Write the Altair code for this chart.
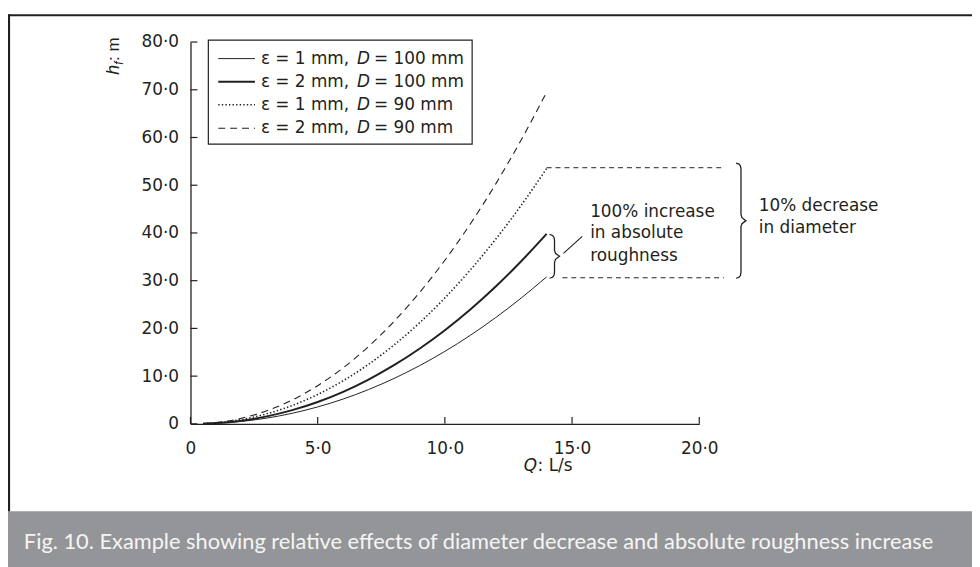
import altair as alt
import pandas as pd

# ---------------- data ----------------
Q = [0.5, 1, 2, 3, 4, 5, 6, 7, 8, 9, 10, 11, 12, 13, 14]
hf_e1_d100 = [0.03, 0.12, 0.52, 1.21, 2.22, 3.55, 5.20, 7.19, 9.51, 12.18, 15.19, 18.56, 22.28, 26.36, 30.8]
hf_e2_d100 = [0.04, 0.16, 0.67, 1.57, 2.87, 4.58, 6.72, 9.29, 12.29, 15.74, 19.63, 23.98, 28.80, 34.07, 39.8]
hf_e1_d90 = [0.05, 0.21, 0.90, 2.11, 3.85, 6.16, 9.03, 12.48, 16.52, 21.15, 26.39, 32.24, 38.71, 45.79, 53.5]
hf_e2_d90 = [0.06, 0.27, 1.17, 2.74, 5.00, 8.00, 11.73, 16.21, 21.46, 27.48, 34.28, 41.88, 50.28, 59.49, 69.5]

series_keys = ["e1d100", "e2d100", "e1d90", "e2d90"]
legend_eps = ["ε = 1 mm, ", "ε = 2 mm, ", "ε = 1 mm, ", "ε = 2 mm, "]
legend_dia = ["= 100 mm", "= 100 mm", "= 90 mm", "= 90 mm"]

x_ticks = [0, 5, 10, 15, 20]
y_ticks = [0, 10, 20, 30, 40, 50, 60, 70, 80]

caption = ("Fig. 10. Example showing relative effects of diameter decrease "
           "and absolute roughness increase")

# annotation anchors (data units)
bracket_top = 53.67      # dotted-curve end level
bracket_bottom = 30.61   # thin-curve end level
bracket_x_end = 20.97
small_brace_top = 39.69
ann_small_text = ["100% increase", "in absolute", "roughness"]
ann_small_x = 15.71
ann_small_y = [44.47, 39.90, 35.12]
ann_big_text = ["10% decrease", "in diameter"]
ann_big_x = 22.34
ann_big_y = [45.71, 40.93]

# ---------------- layout / style ----------------
W, H = 513, 385
XMAX, YMAX = 20, 80
PX = W / XMAX
PY = H / YMAX
INK = "#231f20"
FONT = "DejaVu Sans"

styles = {
    "e1d100": dict(strokeWidth=1.0),
    "e2d100": dict(strokeWidth=2.0),
    "e1d90": dict(strokeWidth=1.6, strokeDash=[1.4, 2.2]),
    "e2d90": dict(strokeWidth=1.1, strokeDash=[7, 5]),
}

label_expr = "datum.value == 0 ? '0' : replace(format(datum.value, '.1f'), '.', '·')"
xscale = alt.Scale(domain=[0, XMAX], nice=False, zero=False)
yscale = alt.Scale(domain=[0, YMAX], nice=False, zero=False)
xaxis = alt.Axis(values=x_ticks, ticks=False, tickSize=0, grid=False, title=None,
                 labelFont=FONT, labelFontSize=17, labelColor=INK, labelPadding=17,
                 domainColor=INK, domainWidth=1.3, labelExpr=label_expr,
                 labelOverlap=False, labelFlush=False)
yaxis = alt.Axis(values=y_ticks, ticks=False, tickSize=0, grid=False, title=None,
                 labelFont=FONT, labelFontSize=17, labelColor=INK, labelPadding=12,
                 domainColor=INK, domainWidth=1.3, labelExpr=label_expr,
                 labelOverlap=False, labelFlush=False)


def xenc(f="Q"):
    return alt.X(f"{f}:Q", scale=xscale, axis=xaxis)


def yenc(f="hf"):
    return alt.Y(f"{f}:Q", scale=yscale, axis=yaxis)


one = pd.DataFrame({"a": [0]})
layers = []

# frame and caption band
layers.append(alt.Chart(one).mark_rect(fill="#939598").encode(
    x=alt.value(-184), x2=alt.value(790), y=alt.value(473), y2=alt.value(530)))
layers.append(alt.Chart(one).mark_rule(color=INK, strokeWidth=2.2).encode(
    x=alt.value(-184), x2=alt.value(790), y=alt.value(-27)))
layers.append(alt.Chart(one).mark_rule(color=INK, strokeWidth=2.2).encode(
    x=alt.value(-183), y=alt.value(-28), y2=alt.value(473)))
layers.append(alt.Chart(one).mark_text(
    text=caption, align="left", baseline="alphabetic", font="Lato", fontSize=22,
    color="#f5f5f5").encode(x=alt.value(-168), y=alt.value(511)))

# curves
rows = []
for key, vals in zip(series_keys, [hf_e1_d100, hf_e2_d100, hf_e1_d90, hf_e2_d90]):
    for q, h in zip(Q, vals):
        rows.append({"series": key, "Q": q, "hf": h})
curves = pd.DataFrame(rows)
for key in series_keys:
    layers.append(alt.Chart(curves).transform_filter(alt.datum.series == key)
                  .mark_line(color=INK, interpolate="monotone", **styles[key])
                  .encode(x=xenc(), y=yenc()))

# inward ticks
layers.append(alt.Chart(pd.DataFrame({"hf": y_ticks})).mark_rule(color=INK, strokeWidth=1.2)
              .encode(x=alt.value(0), x2=alt.value(7), y=yenc()))
layers.append(alt.Chart(pd.DataFrame({"Q": x_ticks})).mark_rule(color=INK, strokeWidth=1.2)
              .encode(x=xenc(), y=alt.value(H), y2=alt.value(H - 7)))

# dashed level lines
dash_df = pd.DataFrame({"Q": [14.0, 14.62], "Q2": [bracket_x_end, bracket_x_end],
                        "hf": [bracket_top, bracket_bottom]})
layers.append(alt.Chart(dash_df).mark_rule(color=INK, strokeWidth=1.0, strokeDash=[5, 4])
              .encode(x=xenc(), x2="Q2:Q", y=yenc()))


def brace(xs, ytop, ybot):
    """curly brace '}' with stem at data x = xs, spanning data y ytop..ybot"""
    hpx = (ytop - ybot) * PY
    mid = hpx / 2
    shape = [(-5, 0), (-2, 1), (-0.5, 3), (0, 6), (0, mid - 6), (1, mid - 3), (5, mid),
             (1, mid + 3), (0, mid + 6), (0, hpx - 6), (-0.5, hpx - 3), (-2, hpx - 1), (-5, hpx)]
    return pd.DataFrame({"i": list(range(len(shape))),
                         "Q": [xs + dx / PX for dx, _ in shape],
                         "hf": [ytop - dy / PY for _, dy in shape]})


big = brace(21.64, 54.65, bracket_bottom - 0.1)
small = brace(14.31, small_brace_top, bracket_bottom - 0.1)
for b in (big, small):
    layers.append(alt.Chart(b).mark_line(color=INK, strokeWidth=1.3)
                  .encode(x=xenc(), y=yenc(), order="i:Q"))

# leader line
leader = pd.DataFrame({"Q": [14.66], "Q2": [15.40], "hf": [35.74], "hf2": [39.27]})
layers.append(alt.Chart(leader).mark_rule(color=INK, strokeWidth=1.1)
              .encode(x=xenc(), x2="Q2:Q", y=yenc(), y2="hf2:Q"))

# annotation texts
ann = pd.DataFrame({"Q": [ann_small_x] * 3 + [ann_big_x] * 2,
                    "hf": ann_small_y + ann_big_y,
                    "t": ann_small_text + ann_big_text})
layers.append(alt.Chart(ann).mark_text(align="left", baseline="middle", font=FONT,
                                        fontSize=17, color=INK)
              .encode(x=xenc(), y=yenc(), text="t:N"))

# legend (manual, to allow italic D)
layers.append(alt.Chart(one).mark_rect(fill="white", stroke=INK, strokeWidth=1.2).encode(
    x=alt.value(18), x2=alt.value(284), y=alt.value(-2), y2=alt.value(103)))
row_y = [16.7, 40.0, 63.3, 87.0]
for key, yy, eps, dia in zip(series_keys, row_y, legend_eps, legend_dia):
    layers.append(alt.Chart(one).mark_rule(color=INK, **styles[key]).encode(
        x=alt.value(28), x2=alt.value(65), y=alt.value(yy)))
    layers.append(alt.Chart(one).mark_text(text=eps, align="left", baseline="middle",
                                           font=FONT, fontSize=17, color=INK)
                  .encode(x=alt.value(71), y=alt.value(yy)))
    layers.append(alt.Chart(one).mark_text(text="D", align="left", baseline="middle",
                                           font=FONT, fontSize=17, fontStyle="italic",
                                           color=INK)
                  .encode(x=alt.value(168), y=alt.value(yy)))
    layers.append(alt.Chart(one).mark_text(text=dia, align="left", baseline="middle",
                                           font=FONT, fontSize=17, color=INK)
                  .encode(x=alt.value(185), y=alt.value(yy)))

# y-axis title  h_f: m  (rotated)
layers.append(alt.Chart(one).mark_text(text="h", angle=270, align="left", baseline="alphabetic",
                                       font="Liberation Sans", fontSize=18, fontStyle="italic",
                                       color=INK).encode(x=alt.value(-72), y=alt.value(33)))
layers.append(alt.Chart(one).mark_text(text="f", angle=270, align="left", baseline="alphabetic",
                                       font="Liberation Sans", fontSize=12, fontStyle="italic",
                                       color=INK).encode(x=alt.value(-68), y=alt.value(23)))
layers.append(alt.Chart(one).mark_text(text=": m", angle=270, align="left", baseline="alphabetic",
                                       font="Liberation Sans", fontSize=17,
                                       color=INK).encode(x=alt.value(-72), y=alt.value(19)))

# x-axis title  Q: L/s
layers.append(alt.Chart(one).mark_text(text="Q", align="left", baseline="alphabetic",
                                       font=FONT, fontSize=17, fontStyle="italic",
                                       color=INK).encode(x=alt.value(336), y=alt.value(433)))
layers.append(alt.Chart(one).mark_text(text=": L/s", align="left", baseline="alphabetic",
                                       font=FONT, fontSize=17,
                                       color=INK).encode(x=alt.value(350), y=alt.value(433)))

chart = alt.layer(*layers).properties(
    width=W, height=H,
    autosize=alt.AutoSizeParams(type="none"),
    padding={"left": 184, "top": 32, "right": 275, "bottom": 142},
    background="white",
).configure_view(stroke=None)

chart.save("out.html", embed_options={"renderer": "svg", "actions": False})
